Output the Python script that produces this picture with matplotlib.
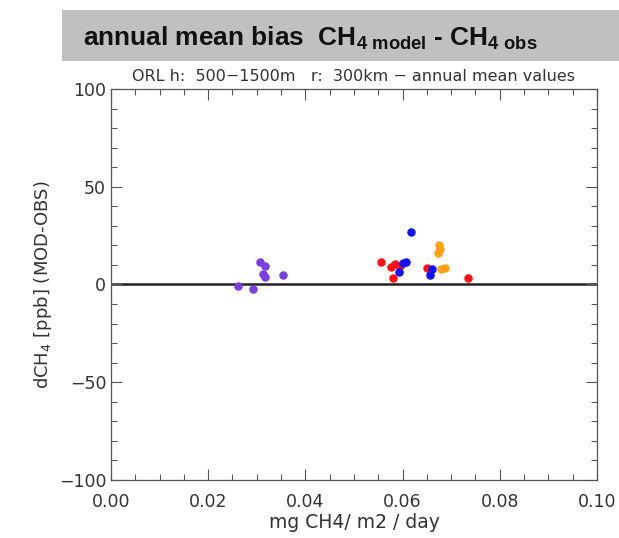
import matplotlib
matplotlib.use('Agg')
import matplotlib.pyplot as plt
from matplotlib.ticker import MultipleLocator
from matplotlib.patches import Rectangle

# emission (x) vs. annual mean bias (y) per station group
purple_x = [0.0307, 0.0317, 0.0312, 0.0317, 0.0353, 0.0262, 0.0293]
purple_y = [11.7, 9.5, 5.4, 3.7, 4.9, -0.6, -2.5]

red_x = [0.0556, 0.0576, 0.0584, 0.0595, 0.0581, 0.0650, 0.0734]
red_y = [11.7, 8.8, 10.3, 9.5, 3.5, 8.3, 3.5]

blue_x = [0.0617, 0.0607, 0.0600, 0.0593, 0.0660, 0.0656]
blue_y = [27.0, 11.7, 10.8, 6.2, 7.8, 4.9]

orange_x = [0.0675, 0.0677, 0.0672, 0.0680, 0.0687]
orange_y = [20.2, 18.2, 16.0, 7.8, 8.4]

txt = '#333333'

# banner title uses bold Liberation Sans also inside the math subscripts
plt.rcParams['mathtext.fontset'] = 'custom'
plt.rcParams['mathtext.rm'] = 'Liberation Sans:bold'
plt.rcParams['mathtext.it'] = 'Liberation Sans:bold'
plt.rcParams['mathtext.bf'] = 'Liberation Sans:bold'

fig = plt.figure(figsize=(6.19, 5.38), dpi=100)

# grey banner with the slide title
fig.patches.append(Rectangle((0.1, 0.8857), 0.9, 0.0957, transform=fig.transFigure,
                             facecolor='#c0c0c0', edgecolor='none', zorder=0))
fig.text(0.134, 0.914, r'annual mean bias  CH$_{4\ \mathregular{model}}$ - CH$_{4\ \mathregular{obs}}$',
         fontsize=18.9, fontweight='bold', family='Liberation Sans', va='baseline', ha='left',
         color='#111111')

ax = fig.add_axes([0.1793, 0.1078, 0.785, 0.7268])

ax.axhline(0, color='#222222', lw=1.8, zorder=1)
ax.scatter(purple_x, purple_y, s=26, color='#7a3fe0', zorder=3)
ax.scatter(red_x, red_y, s=26, color='#ff1010', zorder=3)
ax.scatter(blue_x, blue_y, s=26, color='#1010ff', zorder=3)
ax.scatter(orange_x, orange_y, s=26, color='#ffa010', zorder=3)

ax.set_xlim(0, 0.1)
ax.set_ylim(-100, 100)
ax.xaxis.set_major_locator(MultipleLocator(0.02))
ax.xaxis.set_minor_locator(MultipleLocator(0.005))
ax.yaxis.set_major_locator(MultipleLocator(50))
ax.yaxis.set_minor_locator(MultipleLocator(10))
ax.xaxis.set_major_formatter(lambda v, p: f'{v:.2f}')
ax.tick_params(which='both', direction='in', top=True, right=True, colors='#555555',
               labelcolor=txt, labelsize=12.5)
ax.tick_params(which='major', length=8, width=0.8)
ax.tick_params(which='minor', length=4, width=0.8)
ax.tick_params(axis='x', which='major', pad=9)
for s in ax.spines.values():
    s.set_color('#555555')
    s.set_linewidth(0.9)

ax.set_xlabel('mg CH4/ m2 / day', fontsize=13.5, color=txt, labelpad=2)
ax.set_ylabel('dCH$_4$ [ppb] (MOD-OBS)', fontsize=13, color=txt, labelpad=3,
              math_fontfamily='dejavusans')
ax.set_title('ORL h:  500\u22121500m   r:  300km \u2212 annual mean values', fontsize=11.5,
             color=txt, pad=6)

fig.savefig('out.png', dpi=100)
